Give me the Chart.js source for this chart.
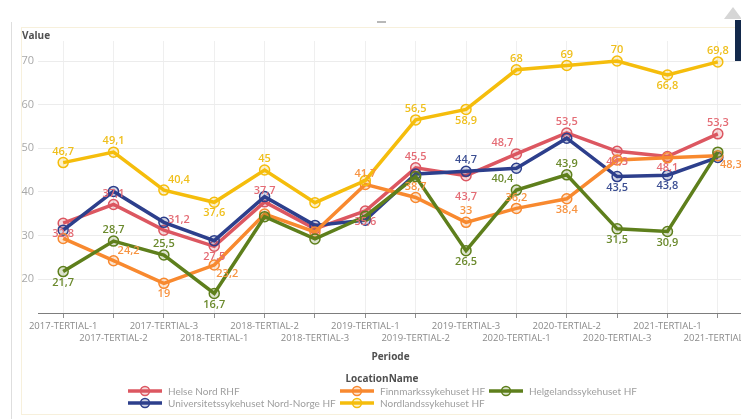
<!DOCTYPE html>
<html>
<head>
<meta charset="utf-8">
<script src="https://cdn.jsdelivr.net/npm/chart.js@4.4.1/dist/chart.umd.min.js"></script>
<style>
  html, body { margin: 0; padding: 0; background: #fff; }
  body { width: 741px; height: 419px; overflow: hidden; position: relative; font-family: "Open Sans", "Noto Sans", sans-serif; }
  .frame { position: absolute; left: 21px; top: 27px; width: 760px; height: 388px; border: 1px solid #f7f0dc; box-sizing: border-box; }
  .sideline { position: absolute; left: 11px; top: 22px; width: 1px; height: 397px; background: #dedede; }
  .dots { position: absolute; left: 377px; top: 21px; width: 9px; height: 2px; background: #b8b8b8; }
  .corner { position: absolute; left: 724px; top: 7px; width: 0; height: 0; border-left: 9px solid transparent; border-right: 9px solid transparent; border-bottom: 12px solid #d6d6d6; }
  .navy { position: absolute; left: 735px; top: 20px; width: 6px; height: 42px; background: #13294b; }
  .ytitle { position: absolute; left: 22px; top: 28px; font-size: 10px; font-weight: 700; color: #505050; }
  #wrap { position: absolute; left: 0; top: 0; width: 760px; height: 365px; }
  .legend { position: absolute; left: 0; top: 0; width: 741px; height: 419px; pointer-events: none; }
  .ltitle { position: absolute; top: 371px; left: 0; width: 764px; text-align: center; font-size: 10px; font-weight: 700; color: #505050; }
  .item { position: absolute; display: flex; align-items: center; font-family: Lato, "Open Sans", sans-serif; font-size: 10px; color: #9e9e9e; white-space: nowrap; height: 12px; }
  .item svg { margin-right: 6px; }
</style>
</head>
<body>
<div class="sideline"></div>
<div class="frame"></div>
<div class="dots"></div>
<div class="corner"></div>
<div class="navy"></div>
<div id="wrap"><canvas id="c" width="760" height="365"></canvas></div>
<div class="ytitle">Value</div>
<div class="legend" id="legend">
  <div class="ltitle">LocationName</div>
</div>
<script>
// Periods on the category axis
const periods = [
  '2017-TERTIAL-1', '2017-TERTIAL-2', '2017-TERTIAL-3',
  '2018-TERTIAL-1', '2018-TERTIAL-2', '2018-TERTIAL-3',
  '2019-TERTIAL-1', '2019-TERTIAL-2', '2019-TERTIAL-3',
  '2020-TERTIAL-1', '2020-TERTIAL-2', '2020-TERTIAL-3',
  '2021-TERTIAL-1', '2021-TERTIAL-2'
];

// Value per location and period
const helseNord   = [32.8, 37.1, 31.2, 27.5, 37.7, 31.5, 35.6, 45.5, 43.7, 48.7, 53.5, 49.3, 48.1, 53.3];
const unn         = [31.2, 40.1, 33.0, 28.8, 38.9, 32.3, 33.5, 44.1, 44.7, 45.4, 52.3, 43.5, 43.8, 47.9];
const finnmark    = [29.3, 24.2, 19, 23.2, 34.9, 30.8, 41.7, 38.7, 33, 36.2, 38.4, 47.3, 47.8, 48.3];
const nordland    = [46.7, 49.1, 40.4, 37.6, 45, 37.5, 42.6, 56.5, 58.9, 68, 69, 70, 66.8, 69.8];
const helgeland   = [21.7, 28.7, 25.5, 16.7, 34.3, 29.2, 34.4, 43.5, 26.5, 40.4, 43.9, 31.5, 30.9, 49.1];

// Value axis ticks
const yTicks = [20, 30, 40, 50, 60, 70];

// Where each value label sits relative to its point (one code per period, '-' = no label)
const labelOffsets = {
  a: [0, -11], b: [0, 11], B: [0, 21],
  r: [15, -10], s: [13, 9], l: [-14, -11]
};

const series = [
  { name: 'Helse Nord RHF', data: helseNord, color: '#dc5761', label: '#e46c75', spots: 'barba-baBlabba', order: 5 },
  { name: 'Universitetssykehuset Nord-Norge HF', data: unn, color: '#2d3f8c', label: '#3b4e92', spots: '--------a--bb-', order: 4 },
  { name: 'Finnmarkssykehuset HF', data: finnmark, color: '#f8892f', label: '#f79442', spots: '-rbs--aaaab--s', order: 3 },
  { name: 'Nordlandssykehuset HF', data: nordland, color: '#f5bd0c', label: '#efbf1c', spots: 'aarba--abaaaba', order: 2 },
  { name: 'Helgelandssykehuset HF', data: helgeland, color: '#5e7f1c', label: '#6b8a2d', spots: 'baab----blabb-', order: 1 }
];

function hexA(hex, a) {
  const n = parseInt(hex.slice(1), 16);
  return `rgba(${(n >> 16) & 255},${(n >> 8) & 255},${n & 255},${a})`;
}
const fmt = v => String(v).replace('.', ',');

// Draws the value labels on top of all lines
const valueLabels = {
  id: 'valueLabels',
  afterDatasetsDraw(chart) {
    const ctx = chart.ctx;
    ctx.save();
    ctx.font = '600 11px "Open Sans", "Noto Sans", sans-serif';
    ctx.textAlign = 'center';
    ctx.textBaseline = 'middle';
    chart.data.datasets.forEach((ds, di) => {
      const meta = chart.getDatasetMeta(di);
      meta.data.forEach((pt, i) => {
        const off = labelOffsets[ds.spots[i]];
        if (!off) return;
        ctx.fillStyle = ds.labelColor;
        ctx.fillText(fmt(ds.data[i]), pt.x + off[0], pt.y + off[1]);
      });
    });
    ctx.restore();
  }
};

new Chart(document.getElementById('c'), {
  type: 'line',
  data: {
    labels: periods,
    datasets: series.map(s => ({
      label: s.name,
      data: s.data,
      order: s.order,
      spots: s.spots,
      labelColor: s.label,
      borderColor: s.color,
      backgroundColor: s.color,
      borderWidth: 3.5,
      tension: 0,
      pointRadius: 5,
      pointHoverRadius: 5,
      pointBorderWidth: 1.5,
      pointBorderColor: s.color,
      pointBackgroundColor: hexA(s.color, 0.22)
    }))
  },
  options: {
    responsive: false,
    animation: false,
    events: [],
    layout: { padding: { left: 0, right: 17, top: 41, bottom: 0 } },
    plugins: { legend: { display: false }, tooltip: { enabled: false } },
    scales: {
      x: {
        type: 'category',
        offset: true,
        grid: { offset: false, color: '#efefef', tickColor: '#8f8f8f', tickLength: 5, lineWidth: 1 },
        border: { display: true, color: '#7d7d7d', width: 1 },
        ticks: {
          autoSkip: false, maxRotation: 0, minRotation: 0, padding: 2,
          color: '#8a8a8a',
          font: { family: '"Open Sans", "Noto Sans", sans-serif', size: 9.5, lineHeight: 1.25 },
          callback: (v, i) => (i % 2 ? ['', periods[i]] : periods[i])
        },
        title: {
          display: true, text: 'Periode', color: '#505050',
          font: { family: '"Open Sans", "Noto Sans", sans-serif', size: 10, weight: 'bold' },
          padding: { top: 0, bottom: 2 }
        },
        afterFit: s => { s.height = 52; }
      },
      y: {
        min: 12.2,
        max: 74.6,
        afterBuildTicks: s => { s.ticks = yTicks.map(v => ({ value: v })); },
        afterFit: s => { s.width = 38; },
        grid: { color: '#ececec', drawTicks: false },
        border: { display: false },
        ticks: {
          padding: 4, color: '#a8a8a8',
          font: { family: '"Open Sans", "Noto Sans", sans-serif', size: 11 }
        }
      }
    }
  },
  plugins: [valueLabels]
});

// Legend laid out in columns
const legendSpots = [
  { s: 0, x: 128, y: 385 }, { s: 1, x: 128, y: 397 },
  { s: 2, x: 340, y: 385 }, { s: 3, x: 340, y: 397 },
  { s: 4, x: 489, y: 385 }
];
const legend = document.getElementById('legend');
legendSpots.forEach(p => {
  const s = series[p.s];
  const el = document.createElement('div');
  el.className = 'item';
  el.style.left = p.x + 'px';
  el.style.top = p.y + 'px';
  el.innerHTML = `<svg width="34" height="12"><line x1="0" y1="6" x2="34" y2="6" stroke="${s.color}" stroke-width="3.5"/>` +
    `<circle cx="17" cy="6" r="4.5" fill="${hexA(s.color, 0.22)}" stroke="${s.color}" stroke-width="1.5"/></svg>` +
    `<span>${s.name}</span>`;
  legend.appendChild(el);
});
</script>
</body>
</html>
